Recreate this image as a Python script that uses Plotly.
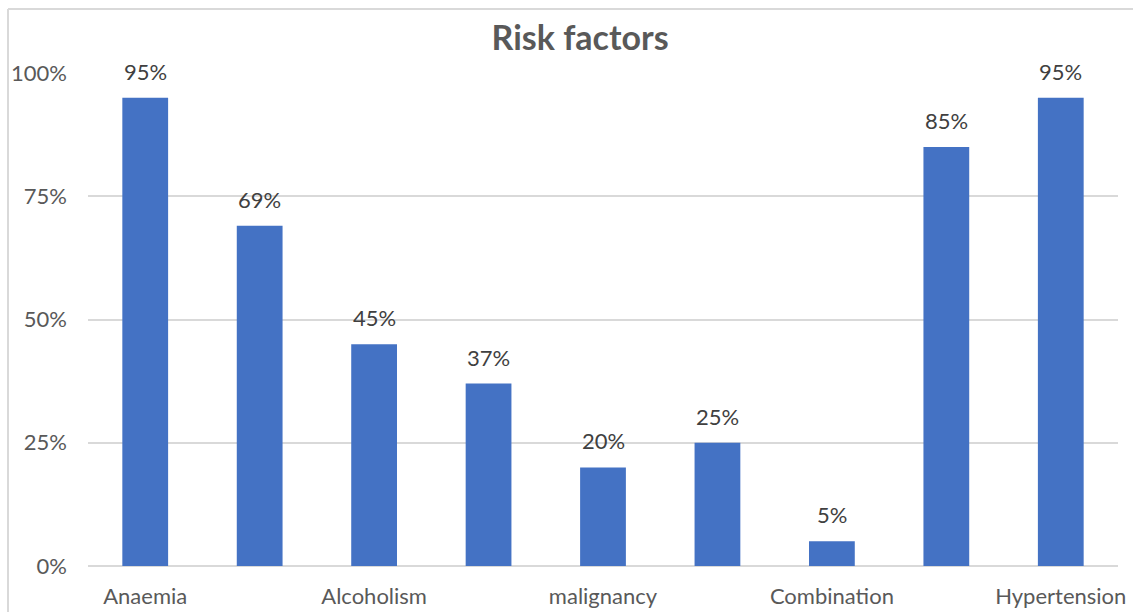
import plotly.graph_objects as go

positions = [0, 1, 2, 3, 4, 5, 6, 7, 8]
tick_labels = ["Anaemia", "", "Alcoholism", "", "malignancy", "", "Combination", "", "Hypertension"]
values = [0.95, 0.69, 0.45, 0.37, 0.20, 0.25, 0.05, 0.85, 0.95]
label_text = [f"{round(v*100)}%" for v in values]

TXT = "#595959"
FONT = "Lato"

fig = go.Figure()
fig.add_trace(go.Bar(
    x=positions, y=values, width=0.4,
    marker=dict(color="#4472C4", line=dict(width=0)),
    hoverinfo="skip",
))

for xv, yv, t in zip(positions, values, label_text):
    fig.add_annotation(x=xv, y=yv, text=t, showarrow=False, yanchor="bottom",
                       yshift=11, font=dict(family=FONT, size=22, color="#404040"))

# chart border (left and top)
fig.add_shape(type="line", xref="paper", yref="paper",
              x0=(8 - 88) / 1030, x1=(8 - 88) / 1030, y0=(566 - 9) / 493, y1=-0.2,
              line=dict(color="#D9D9D9", width=2))
fig.add_shape(type="line", xref="paper", yref="paper",
              x0=(8 - 88) / 1030, x1=1.1, y0=(566 - 9) / 493, y1=(566 - 9) / 493,
              line=dict(color="#D9D9D9", width=2))

fig.update_layout(
    width=1133, height=612,
    margin=dict(l=88, r=15, t=73, b=46),
    paper_bgcolor="white", plot_bgcolor="white",
    showlegend=False,
    title=dict(text="<b>Risk factors</b>", x=0.512, xanchor="center", y=0.938, yanchor="middle",
               font=dict(family=FONT, size=34, color=TXT)),
    xaxis=dict(range=[-0.5, 8.5], tickmode="array", tickvals=positions, ticktext=tick_labels,
               showgrid=False, zeroline=False, showline=False, ticks="", automargin=False,
               tickfont=dict(family=FONT, size=22, color=TXT), ticklabelstandoff=15),
    yaxis=dict(range=[0, 1], tickvals=[0, 0.25, 0.5, 0.75, 1.0], tickformat=".0%",
               showgrid=True, gridcolor="#D9D9D9", gridwidth=2, zeroline=True,
               zerolinecolor="#D9D9D9", zerolinewidth=2, showline=False, ticks="", automargin=False,
               tickfont=dict(family=FONT, size=22, color=TXT), ticklabelstandoff=20),
)

fig.write_html("out.html")
